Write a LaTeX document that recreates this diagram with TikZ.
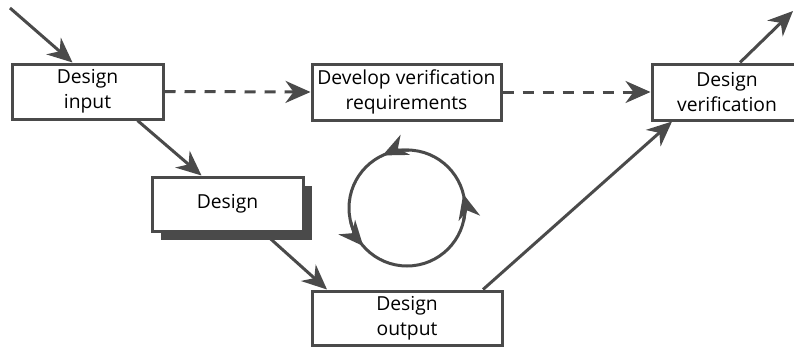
\documentclass[tikz,border=0pt]{standalone}
\usepackage{fontspec}
\setmainfont{Open Sans}
\usetikzlibrary{arrows.meta,calc}
\definecolor{ink}{HTML}{4A4A4A}
\tikzset{
  x=1pt, y=1pt,
  box/.style={draw=ink, line width=3pt, fill=white, align=center,
    inner sep=0pt, font=\fontsize{19.3}{25}\selectfont, text=black},
  arr/.style={draw=ink, line width=3pt,
    -{Stealth[length=25pt,width=22pt,inset=8pt]}},
  dasharr/.style={arr, dash pattern=on 11pt off 9pt},
  cyc/.style={draw=ink, line width=3pt},
}
\begin{document}
\begin{tikzpicture}
\useasboundingbox (0,0) rectangle (794,349);
% process boxes
\node[box, minimum width=151pt, minimum height=55pt] (in) at (87.5,257.5) {Design\\input};
\fill[ink] (161,109) rectangle (312,163);
\node[box, minimum width=151pt, minimum height=54pt] (des) at (227.5,145) {Design};
\node[box, minimum width=189pt, minimum height=56pt] (dev) at (406.5,257) {Develop verification\\requirements};
\node[box, minimum width=150pt, minimum height=56pt] (ver) at (727,257) {Design\\verification};
\node[box, minimum width=190pt, minimum height=54pt] (out) at (407,31) {Design\\output};
\coordinate (start) at (10,341);
\coordinate (end) at (793,338);
% flow
\draw[arr] (start) -- ($(in.north)+(-15,0)$);
\draw[arr] ($(in.south)+(50,0)$) -- ($(des.north)+(-26,0)$);
\draw[arr] ($(des.south)+(36,0)$) -- ($(out.north)+(-80,0)$);
\draw[arr] ($(out.north)+(76,0)$) -- ($(ver.south)+(-55,0)$);
\draw[arr] ($(ver.north)+(13,0)$) -- (end);
\draw[dasharr] (in.east) -- (dev.west);
\draw[dasharr] (dev.east) -- (ver.west);
% iteration cycle
\coordinate (c) at (407,141);
\draw[cyc] (c) circle[radius=58];
\draw[arr] ($(c)+(88:58)$) arc[start angle=88, end angle=115, radius=58];
\draw[arr] ($(c)+(194:58)$) arc[start angle=194, end angle=221, radius=58];
\draw[arr] ($(c)+(-13:58)$) arc[start angle=-13, end angle=14, radius=58];
\end{tikzpicture}
\end{document}
